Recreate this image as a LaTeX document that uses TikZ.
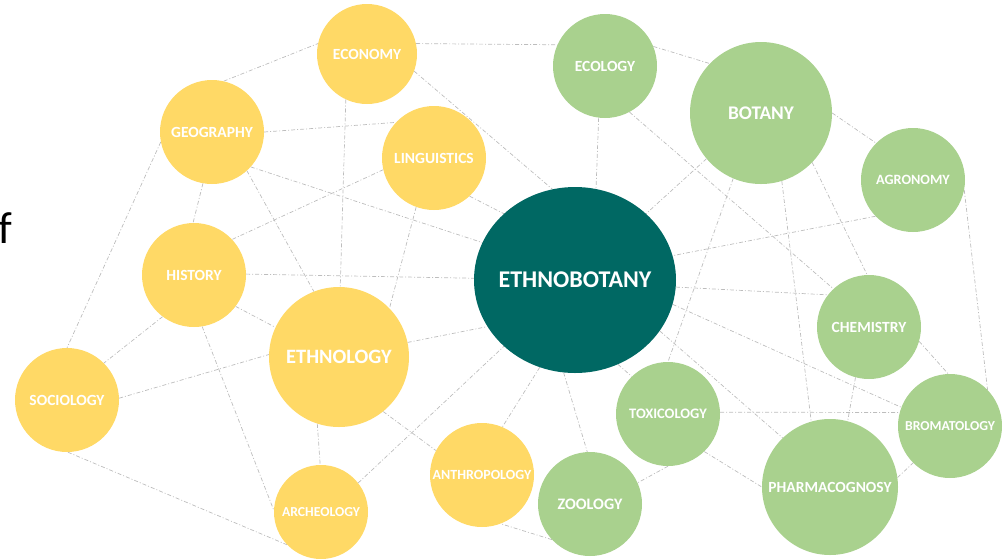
\documentclass[tikz,border=0pt]{standalone}
\usepackage{fontspec}
\setmainfont{Carlito}
\usetikzlibrary{shapes.geometric}
\pgfdeclarelayer{bg}
\pgfsetlayers{bg,main}
\definecolor{ylw}{HTML}{FFD966}
\definecolor{grn}{HTML}{A9D18E}
\definecolor{teal2}{RGB}{0,104,99}
\definecolor{lnk}{HTML}{BDBDBD}
\newcommand{\ctext}[1]{\makebox[0pt]{#1}}
\tikzset{
  disc/.style={circle, inner sep=0pt, text=white, font=\bfseries},
  ydisc/.style={disc, fill=ylw},
  gdisc/.style={disc, fill=grn},
  fs/.style={font=\bfseries\fontsize{#1}{#1}\selectfont},
  link/.style={draw=lnk, line width=0.7pt, dash pattern=on 4pt off 2pt on 1pt off 2pt}
}
\begin{document}
\begin{tikzpicture}[x=1pt,y=-1pt]
\useasboundingbox (0,0) rectangle (1005,558);
\node[anchor=base west, inner sep=0pt, font=\fontsize{45}{45}\selectfont] (fchar) at (-1.5,243) {f};
% yellow
\node[ydisc, minimum size=100pt, fs=15.5] (ECO) at (367,54) {\ctext{ECONOMY}};
\node[ydisc, minimum size=104pt, fs=15.5] (GEO) at (212,132) {\ctext{GEOGRAPHY}};
\node[ydisc, minimum size=104pt, fs=15.5] (LIN) at (434,158) {\ctext{LINGUISTICS}};
\node[ydisc, minimum size=104pt, fs=15.5] (HIS) at (194,275) {\ctext{HISTORY}};
\node[ydisc, minimum size=140pt, fs=20.4] (ETL) at (339,357) {\ctext{ETHNOLOGY}};
\node[ydisc, minimum size=104pt, fs=15.5] (SOC) at (67,400) {\ctext{SOCIOLOGY}};
\node[ydisc, minimum size=94pt, fs=13.7] (ARC) at (321,512) {\ctext{ARCHEOLOGY}};
\node[ydisc, minimum size=104pt, fs=14] (ANT) at (482,475) {\ctext{ANTHROPOLOGY}};
% center
\node[ellipse, inner sep=0pt, fill=teal2, text=white, minimum width=202pt, minimum height=186pt, fs=24] (ETB) at (575,280) {\ctext{ETHNOBOTANY}};
% green
\node[gdisc, minimum size=104pt, fs=16] (ZOO) at (590,504) {\ctext{ZOOLOGY}};
\node[gdisc, minimum size=104pt, fs=14.5] (TOX) at (668,414) {\ctext{TOXICOLOGY}};
\node[gdisc, minimum size=136pt, fs=15.5] (PHA) at (830,487) {\ctext{PHARMACOGNOSY}};
\node[gdisc, minimum size=104pt, fs=13.7] (BRO) at (950,426) {\ctext{BROMATOLOGY}};
\node[gdisc, minimum size=104pt, fs=15.5] (CHE) at (869,327) {\ctext{CHEMISTRY}};
\node[gdisc, minimum size=104pt, fs=15.5] (ECL) at (605,66) {\ctext{ECOLOGY}};
\node[gdisc, minimum size=142pt, fs=19.3] (BOT) at (761,113) {\ctext{BOTANY}};
\node[gdisc, minimum size=104pt, fs=14.2] (AGR) at (913,180) {\ctext{AGRONOMY}};
\begin{pgfonlayer}{bg}
\draw[link] (GEO.77) -- (ECO.168);
\draw[link] (ECO.12) -- (ECL.156);
\draw[link] (ECO.-20) -- (ETB.104);
\draw[link] (ECO.245) -- (ETL.89);
\draw[link] (GEO.0) -- (LIN.137);
\draw[link] (GEO.-42) -- (ETB.158);
\draw[link] (GEO.-48) -- (ETL.111);
\draw[link] (GEO.260) -- (HIS.91);
\draw[link] (GEO.191) -- (SOC.90);
\draw[link] (LIN.193) -- (HIS.43);
\draw[link] (LIN.-47) -- (ETB.137);
\draw[link] (LIN.250) -- (ETL.44);
\draw[link] (HIS.1) -- (ETB.179);
\draw[link] (HIS.233) -- (SOC.45);
\draw[link] (HIS.323) -- (ETL.155);
\draw[link] (HIS.279) -- (ARC.178);
\draw[link] (SOC.2) -- (ETL.178);
\draw[link] (SOC.271) -- (ARC.224);
\draw[link] (ETL.252) -- (ARC.91);
\draw[link] (ETL.309) -- (ANT.152);
\draw[link] (ARC.38) -- (ETB.223);
\draw[link] (ETL.12) -- (ETB.208);
\draw[link] (ETB.248) -- (ANT.67);
\draw[link] (ETB.263) -- (ZOO.93);
\draw[link] (ETB.297) -- (TOX.134);
\draw[link] (ETB.329) -- (PHA.134);
\draw[link] (ETB.346) -- (BRO.159);
\draw[link] (ETB.356) -- (CHE.142);
\draw[link] (BOT.247) -- (TOX.90);
\draw[link] (BOT.287) -- (PHA.106);
\draw[link] (BOT.316) -- (CHE.92);
\draw[link] (ECL.298) -- (CHE.133);
\draw[link] (AGR.349) -- (BRO.44);
\draw[link] (AGR.224) -- (ETB.14);
\draw[link] (BOT.0) -- (AGR.135);
\draw[link] (ECL.22) -- (BOT.136);
\draw[link] (ECL.263) -- (ETB.77);
\draw[link] (BOT.220) -- (ETB.43);
\draw[link] (CHE.344) -- (BRO.92);
\draw[link] (CHE.255) -- (PHA.75);
\draw[link] (TOX.2) -- (BRO.165);
\draw[link] (TOX.314) -- (PHA.180);
\draw[link] (TOX.270) -- (ZOO.24);
\draw[link] (PHA.8) -- (BRO.225);
\draw[link] (ZOO.223) -- (ANT.291);
\end{pgfonlayer}
\end{tikzpicture}
\end{document}
